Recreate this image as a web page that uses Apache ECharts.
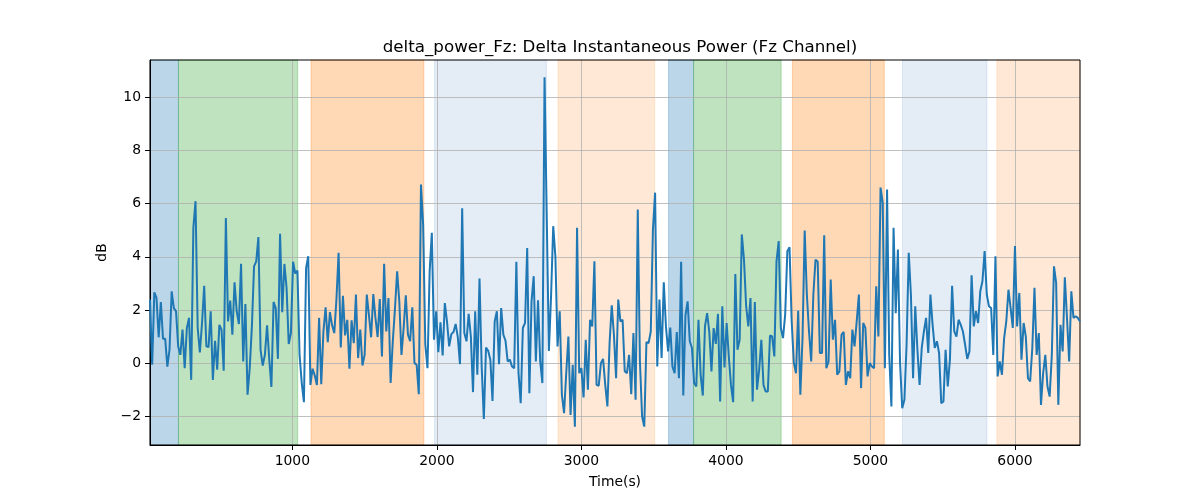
<!DOCTYPE html>
<html>
<head>
<meta charset="utf-8">
<script src="https://cdn.jsdelivr.net/npm/echarts@6/dist/echarts.min.js"></script>
<style>html,body{margin:0;padding:0;background:#fff;}#chart{width:1200px;height:500px;}</style>
</head>
<body>
<div id="chart"></div>
<script>
// ---- data ----
const START_TIME = 15;      // first sample time (s)
const SAMPLE_STEP = 15;     // seconds between samples
const deltaPower = [
  2.39,-0.06,2.66,2.45,0.97,2.3,0.92,0.92,-0.13,0.5,2.7,2.07,1.95,0.63,0.31,1.26,-0.19,1.32,1.7,-0.63,
  5.09,6.09,1.32,0.4,1.51,2.91,0.63,0.6,1.95,-0.63,0.84,-0.25,1.44,1.26,-0.29,5.46,1.57,2.35,1.07,3.04,
  1.95,1.47,3.74,0.06,2.22,-1.19,-0.19,1.38,3.64,3.83,4.74,0.5,-0.09,0.31,1.42,
  0.16,-0.9,2.3,2.07,0.16,4.86,1.91,3.73,2.83,0.72,1.13,3.81,3.37,3.48,0.31,-0.75,-1.47,3.58,4.02,-0.82,
  -0.21,-0.46,-0.82,1.7,-0.79,1.19,2.1,0.79,1.92,1.42,1.13,2.39,4.15,0.59,2.53,1.04,1.63,-0.21,1.61,0.75,
  2.58,0.19,1.26,-0.09,0.31,2.58,1.8,0.97,2.6,1.7,0.98,2.41,0.25,3.74,1.19,
  2.45,-0.75,0.82,2.05,3.45,2.32,0.31,1.32,2.55,1.07,0.82,2.1,0,-0.06,-1.17,6.72,5.21,0.69,-0.19,3.45,
  4.9,0.88,1.95,0.41,1.53,0.29,2.26,1.57,0.63,1.09,1.17,1.47,0.97,-0.04,5.82,1.13,0.82,1.85,1.01,-1.09,
  1.95,-0.44,3.18,-0.13,-2.1,0.59,0.46,0.13,-1.42,1.57,1.95,-0.04,2.07,1.07,0.84,0.06,
  0.13,-0.13,-0.19,3.81,-0.38,-1.51,1.32,1.51,4.33,-1.13,2.32,3.27,0.06,2.36,0.06,-0.75,10.75,5.59,0.46,2.51,
  5.15,4.02,0.63,1.95,-1.19,-1.88,-0.38,1.0,-1.95,-0.06,-2.39,5.09,-0.38,-0.19,-1.29,0.88,-1.0,1.63,1.38,3.83,
  -0.82,-0.85,0,0.16,-0.82,-1.63,0.75,2.17,1.07,-0.57,2.39,1.57,1.63,
  -0.31,-0.38,0.31,-1.17,1.13,-1.38,5.78,0.06,-2.01,-2.39,0.79,0.75,1.19,5.03,6.41,-0.13,2.39,0.19,3.04,1.38,
  0.44,1.34,-0.13,-0.38,1.17,-0.57,3.81,-1.22,1.8,2.32,0.82,0.57,-0.75,-0.88,1.63,-0.44,-1.22,1.38,1.88,1.17,
  -0.31,1.32,0.72,1.85,-1.44,2.14,-0.16,1.51,0.25,-0.82,-1.47,3.35,0.5,0.88,4.84,3.89,2.14,
  1.38,2.45,-1.44,2.3,-1.0,-0.25,0.88,-0.82,-1.07,-1.07,1.04,1.0,0.25,3.83,4.59,1.32,0.94,1.82,4.21,4.36,
  1.57,0,-0.38,1.97,-1.19,0.94,4.99,2.58,1.19,0.06,2.58,3.89,3.81,0.38,0.38,4.81,-0.19,0.06,3.14,0.88,
  1.63,-0.44,-0.31,1.07,1.17,-0.82,-0.31,-0.57,1.26,0.63,1.57,2.58,-0.94,1.51,1.32,
  -0.5,0,-0.13,-0.19,2.89,1.0,6.6,6.03,-0.19,6.53,0.31,-1.63,5.09,1.88,4.27,0,-1.7,-1.38,0.69,4.15,
  2.58,-0.57,2.14,0.5,-0.82,0.57,1.19,1.7,0.38,2.58,1.44,0.57,0.82,0.38,-1.51,-1.44,0.5,-0.88,0.13,2.91,
  1.19,1.0,1.63,1.44,1.19,0.69,0.16,0.44,3.3,1.38,1.95,1.51,2.7,3.08,4.21,2.58,
  2.14,2.07,0.31,4.02,-0.5,0.06,-0.44,0.94,1.57,2.76,2.07,1.32,4.4,1.38,2.64,0.13,1.51,1.0,-0.57,-0.69,
  0.57,2.83,0.31,1.13,-1.57,-0.38,0.31,-0.88,-1.26,0.31,3.64,3.02,-1.57,1.44,0.44,3.23,1.7,0.06,2.7,1.7,
  1.76,1.7,1.57
];
// shaded stage intervals (s)
const spanStart = [15, 212, 1129, 1984, 2838, 3603, 3776, 4460, 5222, 5875];
const spanEnd   = [212, 1037, 1910, 2758, 3507, 3776, 4382, 5096, 5806, 6450];
const spanKind  = ['blue','green','orange','lightblue','lightorange','blue','green','orange','lightblue','lightorange'];
const xTicks = [1000, 2000, 3000, 4000, 5000, 6000];
const yTicks = [-2, 0, 2, 4, 6, 8, 10];

// ---- styles ----
const kindColor = {
  blue: 'rgba(31,119,180,0.3)',
  green: 'rgba(44,160,44,0.3)',
  orange: 'rgba(255,127,14,0.3)',
  lightblue: 'rgba(30,97,180,0.12)',
  lightorange: 'rgba(255,127,14,0.17)'
};

const times = deltaPower.map((_, i) => START_TIME + i * SAMPLE_STEP);
const seriesData = deltaPower.map((v, i) => [times[i], v]);
const xMin = times[0], xMax = times[times.length - 1];

const areas = spanStart.map((s, i) => [
  { xAxis: s, itemStyle: { color: kindColor[spanKind[i]], borderColor: kindColor[spanKind[i]], borderWidth: 1 } },
  { xAxis: spanEnd[i] }
]);

const FONT = 'DejaVu Sans';
const minus = v => String(v).replace('-', '\u2212');

const chart = echarts.init(document.getElementById('chart'), null, { renderer: 'canvas' });
chart.setOption({
  animation: false,
  backgroundColor: '#fff',
  title: {
    text: 'delta_power_Fz: Delta Instantaneous Power (Fz Channel)',
    left: 615, top: 34, textAlign: 'center',
    textStyle: { fontFamily: FONT, fontSize: 16.7, fontWeight: 'normal', color: '#000' }
  },
  grid: { left: 150, right: 120, top: 60, bottom: 55, show: true, borderColor: '#000', borderWidth: 1, backgroundColor: 'transparent', z: 6 },
  xAxis: {
    type: 'value', min: xMin, max: xMax, z: 5,
    name: 'Time(s)', nameLocation: 'middle', nameGap: 30,
    nameTextStyle: { fontFamily: FONT, fontSize: 13.9, color: '#000' },
    axisLine: { show: true, onZero: false, lineStyle: { color: '#000', width: 1 } },
    axisTick: { show: true, inside: false, length: 5, lineStyle: { color: '#000' }, customValues: xTicks },
    axisLabel: { customValues: xTicks, margin: 9, fontFamily: FONT, fontSize: 13.9, color: '#000', formatter: minus },
    splitLine: { show: true, lineStyle: { color: '#b0b0b0', width: 0.8 } }
  },
  yAxis: {
    type: 'value', min: -3.08, max: 11.40, z: 5,
    name: 'dB', nameLocation: 'middle', nameGap: 32, nameRotate: 90,
    nameTextStyle: { fontFamily: FONT, fontSize: 13.9, color: '#000' },
    axisLine: { show: true, onZero: false, lineStyle: { color: '#000', width: 1 } },
    axisTick: { show: true, inside: false, length: 5, lineStyle: { color: '#000' }, customValues: yTicks },
    axisLabel: { customValues: yTicks, margin: 9, fontFamily: FONT, fontSize: 13.9, color: '#000', formatter: minus },
    splitLine: { show: true, lineStyle: { color: '#b0b0b0', width: 0.8 } }
  },
  series: [{
    type: 'line',
    data: seriesData,
    showSymbol: false,
    symbol: 'none',
    lineStyle: { color: '#1f77b4', width: 2 },
    z: 20,
    markArea: { silent: true, z: 1, data: areas }
  }]
});
</script>
</body>
</html>
